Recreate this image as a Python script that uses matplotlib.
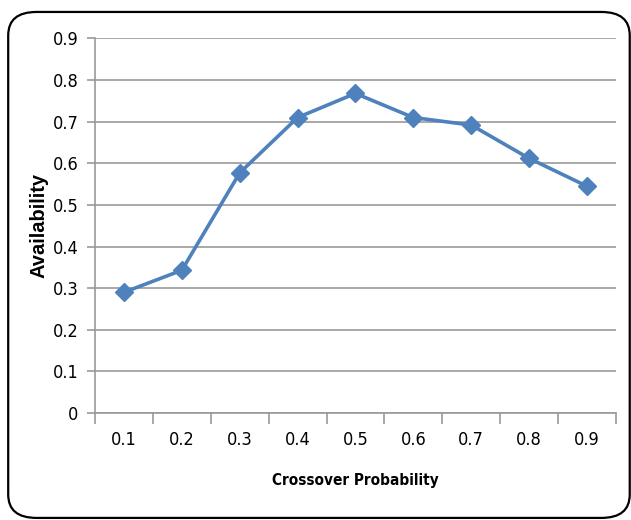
import numpy as np
import matplotlib.pyplot as plt
from matplotlib.patches import FancyBboxPatch
from matplotlib.font_manager import FontProperties

# values
crossover = ['0.1', '0.2', '0.3', '0.4', '0.5', '0.6', '0.7', '0.8', '0.9']
availability = [0.29, 0.343, 0.577, 0.71, 0.768, 0.71, 0.692, 0.612, 0.545]
y_ticks = [0, 0.1, 0.2, 0.3, 0.4, 0.5, 0.6, 0.7, 0.8, 0.9]

plt.rcParams['font.family'] = ['DejaVu Sans']
plt.rcParams['font.stretch'] = 'condensed'

fig = plt.figure(figsize=(6.31, 5.20), dpi=100)
ax = fig.add_axes([0.1506, 0.2058, 0.8254, 0.7202])

x = np.arange(len(crossover))
ax.plot(x, availability, color='#4F81BD', lw=2.6, marker='D', ms=9,
        markeredgecolor='#4F81BD', zorder=3)

ax.set_xlim(-0.5, len(crossover) - 0.5)
ax.set_ylim(0, 0.9)
ax.set_yticks(y_ticks)
ax.set_yticklabels([('%g' % v) for v in y_ticks])
ax.set_xticks(x)
ax.set_xticklabels(crossover)
ax.set_xticks(np.arange(-0.5, len(crossover)), minor=True)

ax.grid(True, axis='y', color='#9a9a9a', lw=1.2)
ax.set_axisbelow(True)
for s in ['top', 'right']:
    ax.spines[s].set_visible(False)
for s in ['left', 'bottom']:
    ax.spines[s].set_color('#9a9a9a')
    ax.spines[s].set_linewidth(1.2)

ax.tick_params(axis='y', length=6, width=1.2, color='#9a9a9a', labelsize=13, pad=6)
ax.tick_params(axis='x', which='major', length=0, labelsize=13, pad=13)
ax.tick_params(axis='x', which='minor', length=8, width=1.2, color='#9a9a9a')

ax.set_xlabel('Crossover Probability', fontsize=11, fontweight='bold', labelpad=17)
ylab_font = FontProperties(family='Liberation Sans', weight='bold', stretch='normal', size=14.5)
ax.set_ylabel('Availability', fontproperties=ylab_font, labelpad=3)

border = FancyBboxPatch((0.013, 0.004), 0.985, 0.973, transform=fig.transFigure,
                        boxstyle='round,pad=0,rounding_size=0.045',
                        fill=False, ec='black', lw=1.6, clip_on=False)
fig.patches.append(border)

fig.savefig('out.png', dpi=100)
